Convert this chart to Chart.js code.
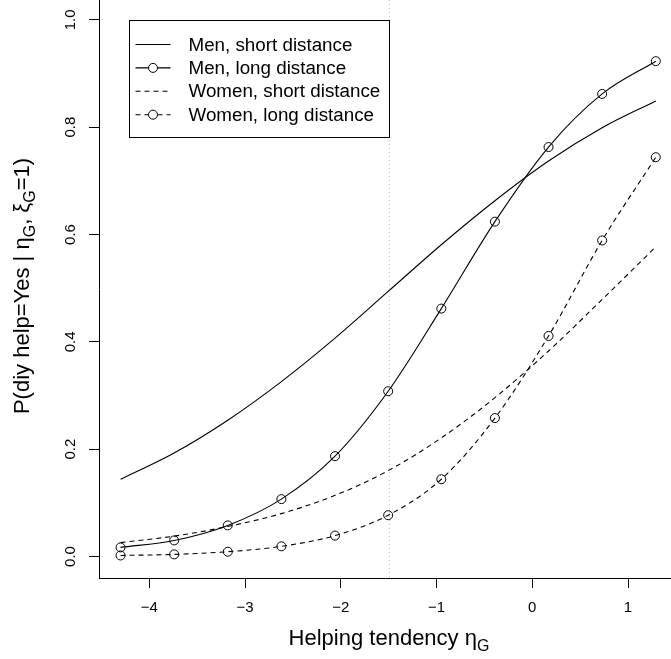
<!DOCTYPE html>
<html>
<head>
<meta charset="utf-8">
<title>P(diy help=Yes | eta_G)</title>
<script src="https://cdn.jsdelivr.net/npm/chart.js@4.4.1/dist/chart.umd.min.js"></script>
<style>
  html, body { margin: 0; padding: 0; background: #fff; }
  #wrap { width: 671px; height: 659px; }
</style>
</head>
<body>
<div id="wrap"><canvas id="chart" width="671" height="659"></canvas></div>
<script>
// helping tendency values the curves were evaluated at
const etaValues = [-4.30, -3.74, -3.18, -2.62, -2.06, -1.505, -0.95, -0.39, 0.17, 0.73, 1.29];

// probabilities
const menShort   = [0.144, 0.193, 0.254, 0.326, 0.407, 0.494, 0.581, 0.663, 0.737, 0.799, 0.849];
const menLong    = [0.017, 0.030, 0.058, 0.107, 0.187, 0.308, 0.462, 0.624, 0.763, 0.862, 0.923];
const womenShort = [0.026, 0.038, 0.056, 0.080, 0.114, 0.160, 0.221, 0.296, 0.383, 0.479, 0.577];
const womenLong  = [0.002, 0.004, 0.009, 0.019, 0.039, 0.077, 0.144, 0.258, 0.411, 0.589, 0.744];

const seriesLabels = ["Men, short distance", "Men, long distance", "Women, short distance", "Women, long distance"];
const xTicks = [-4, -3, -2, -1, 0, 1];
const yTicks = [0, 0.2, 0.4, 0.6, 0.8, 1.0];
const cutoff = -1.5;          // dotted vertical line
const legendAt = [-4.21, 1.0]; // top-left corner of legend box, data units

const FONT = '"Liberation Sans", Arial, Helvetica, sans-serif';

function makeSet(label, values, dashed, markers) {
  return {
    label: label,
    data: etaValues.map((x, i) => ({ x: x, y: values[i] })),
    borderColor: "#000",
    borderWidth: 1.1,
    borderDash: dashed ? [5, 4] : [],
    pointRadius: markers ? 4.5 : 0,
    pointHoverRadius: markers ? 4.5 : 0,
    pointBorderColor: "#000",
    pointBackgroundColor: "rgba(0,0,0,0)",
    pointBorderWidth: 1,
    cubicInterpolationMode: "monotone",
    fill: false
  };
}

// draws text with subscript parts, centered on cx, baseline at by
function drawRich(ctx, parts, cx, by, size) {
  const subSize = Math.round(size * 0.72);
  let total = 0;
  parts.forEach(p => {
    ctx.font = (p.sub ? subSize : size) + "px " + FONT;
    p.w = ctx.measureText(p.t).width;
    total += p.w;
  });
  let x = cx - total / 2;
  ctx.textAlign = "left";
  ctx.textBaseline = "alphabetic";
  parts.forEach(p => {
    ctx.font = (p.sub ? subSize : size) + "px " + FONT;
    ctx.fillText(p.t, x, p.sub ? by + size * 0.25 : by);
    x += p.w;
  });
}

const extras = {
  id: "extras",
  beforeDatasetsDraw(chart) {
    const { ctx, chartArea, scales } = chart;
    const px = Math.round(scales.x.getPixelForValue(cutoff)) + 0.5;
    ctx.save();
    ctx.strokeStyle = "#c4c4c4";
    ctx.lineWidth = 1;
    ctx.setLineDash([1, 3]);
    ctx.beginPath();
    ctx.moveTo(px, chartArea.top);
    ctx.lineTo(px, chartArea.bottom);
    ctx.stroke();
    ctx.restore();
  },
  afterDraw(chart) {
    const { ctx, scales } = chart;
    ctx.save();
    ctx.fillStyle = "#000";

    // axis titles
    drawRich(ctx, [{ t: "Helping tendency \u03b7" }, { t: "G", sub: true }], 389, 645, 22);
    ctx.save();
    ctx.translate(29, 286);
    ctx.rotate(-Math.PI / 2);
    drawRich(ctx, [
      { t: "P(diy help=Yes | \u03b7" }, { t: "G", sub: true },
      { t: ", \u03be" }, { t: "G", sub: true }, { t: "=1)" }
    ], 0, 0, 22);
    ctx.restore();

    // legend box
    const left = Math.round(scales.x.getPixelForValue(legendAt[0])) + 0.5;
    const top = Math.round(scales.y.getPixelForValue(legendAt[1])) + 0.5;
    ctx.fillStyle = "#fff";
    ctx.fillRect(left, top, 260, 117);
    ctx.strokeStyle = "#000";
    ctx.lineWidth = 1;
    ctx.strokeRect(left, top, 260, 117);
    ctx.font = "18.8px " + FONT;
    ctx.textAlign = "left";
    ctx.textBaseline = "middle";
    chart.data.datasets.forEach((ds, i) => {
      const cy = top + 24 + i * 23.4;
      const cx = left + 23.5;
      ctx.strokeStyle = "#000";
      ctx.lineWidth = ds.borderWidth;
      ctx.setLineDash(ds.borderDash);
      ctx.beginPath();
      if (ds.pointRadius > 0) {
        ctx.moveTo(left + 6, cy); ctx.lineTo(cx - ds.pointRadius, cy);
        ctx.moveTo(cx + ds.pointRadius, cy); ctx.lineTo(left + 41, cy);
      } else {
        ctx.moveTo(left + 6, cy); ctx.lineTo(left + 41, cy);
      }
      ctx.stroke();
      ctx.setLineDash([]);
      if (ds.pointRadius > 0) {
        ctx.lineWidth = 1;
        ctx.beginPath();
        ctx.arc(cx, cy, ds.pointRadius, 0, Math.PI * 2);
        ctx.stroke();
      }
      ctx.fillStyle = "#000";
      ctx.fillText(ds.label, left + 59, cy + 1);
    });
    ctx.restore();
  }
};

new Chart(document.getElementById("chart"), {
  type: "line",
  data: {
    datasets: [
      makeSet(seriesLabels[0], menShort, false, false),
      makeSet(seriesLabels[1], menLong, false, true),
      makeSet(seriesLabels[2], womenShort, true, false),
      makeSet(seriesLabels[3], womenLong, true, true)
    ]
  },
  options: {
    responsive: false,
    animation: false,
    layout: { padding: 0, autoPadding: false },
    plugins: { legend: { display: false }, tooltip: { enabled: false } },
    scales: {
      x: {
        type: "linear",
        position: "bottom",
        min: -4.525,
        max: 1.449,
        afterBuildTicks: s => { s.ticks = xTicks.map(v => ({ value: v })); },
        afterFit: s => { s.height = 81; s.paddingLeft = 0; s.paddingRight = 0; },
        grid: { drawOnChartArea: false, drawTicks: true, tickLength: 10, color: "#000", lineWidth: 1 },
        border: { display: true, color: "#000", width: 1 },
        ticks: {
          autoSkip: false, maxRotation: 0, padding: 11, color: "#000",
          font: { family: FONT, size: 15 },
          callback: v => String(v).replace("-", "\u2212")
        }
      },
      y: {
        type: "linear",
        position: "left",
        min: -0.04,
        max: 1.037,
        afterBuildTicks: s => { s.ticks = yTicks.map(v => ({ value: v })); },
        afterFit: s => { s.width = 99; s.paddingTop = 0; s.paddingBottom = 0; },
        grid: { drawOnChartArea: false, drawTicks: true, tickLength: 10, color: "#000", lineWidth: 1 },
        border: { display: true, color: "#000", width: 1 },
        ticks: {
          autoSkip: false, minRotation: 90, maxRotation: 90, crossAlign: "center", padding: 8,
          color: "#000", font: { family: FONT, size: 15 },
          callback: v => v.toFixed(1)
        }
      }
    }
  },
  plugins: [extras]
});
</script>
</body>
</html>
